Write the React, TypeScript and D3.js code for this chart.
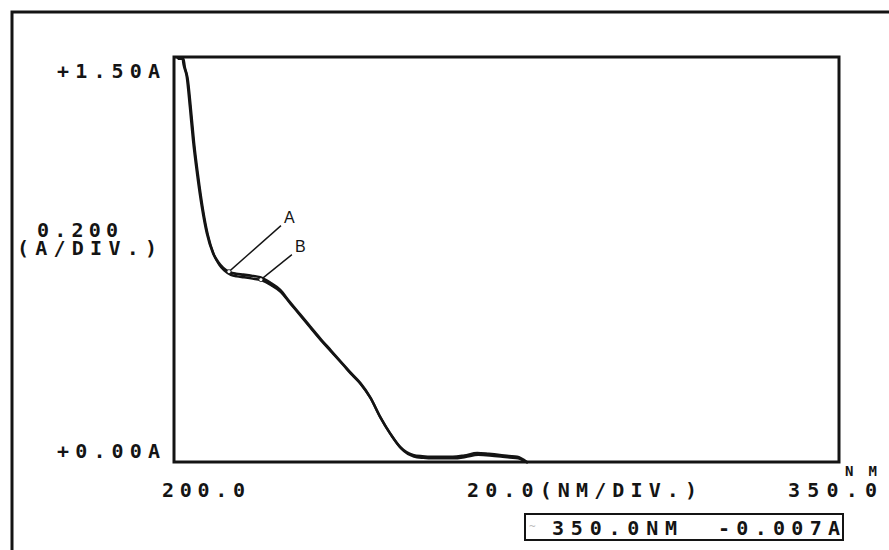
import React from "react";
import * as d3 from "d3";

// spectrum (nm, absorbance)
const wavelengths = [
  200.6, 201.9, 202.2, 202.9, 203.6, 204.3, 205.2, 206.3, 207.4, 208.8, 210.0,
  211.1, 212.6, 214.0, 215.6, 217.5, 219.4, 221.7, 223.9, 226.0, 228.4, 230.6,
  232.9, 235.5, 238.1, 240.0, 242.0, 244.2, 246.5, 248.7, 251.0, 253.9, 256.0,
  258.4, 262.9, 265.5, 268.4, 271.0, 273.5, 275.5, 277.4, 279.6,
];
const absA = [
  1.497, 1.497, 1.47, 1.426, 1.315, 1.193, 1.07, 0.944, 0.848, 0.774, 0.74,
  0.719, 0.703, 0.697, 0.694, 0.69, 0.684, 0.664, 0.638, 0.595, 0.548, 0.504,
  0.459, 0.411, 0.363, 0.328, 0.293, 0.241, 0.167, 0.107, 0.056, 0.026, 0.021,
  0.019, 0.019, 0.024, 0.033, 0.03, 0.026, 0.022, 0.019, 0.0,
];
const absB = [
  1.497, 1.497, 1.468, 1.42, 1.31, 1.188, 1.066, 0.94, 0.845, 0.77, 0.734,
  0.713, 0.697, 0.691, 0.688, 0.683, 0.677, 0.658, 0.633, 0.591, 0.544, 0.5,
  0.455, 0.408, 0.36, 0.325, 0.29, 0.238, 0.164, 0.105, 0.054, 0.024, 0.019,
  0.017, 0.017, 0.022, 0.03, 0.028, 0.024, 0.02, 0.017, 0.0,
];

const xDomain = [200, 350];
const yDomain = [0, 1.5];
const yTickLabels = ["+1.50A", "+0.00A"];
const xTickLabels = ["200.0", "350.0"];
const yScaleLabel = ["0.200", "(A/DIV.)"];
const xScaleLabel = "20.0(NM/DIV.)";
const unitLabel = "NM";
const readout = ["350.0NM", "-0.007A"];
// where the A / B pointers touch the curves (nm)
const pointers = [
  { name: "A", nm: 212.4, series: absA },
  { name: "B", nm: 219.6, series: absB },
];

const W = 889;
const H = 550;
const left = 174;
const top = 57;
const right = 839;
const bottom = 462;

const mono = "'DejaVu Sans Mono', monospace";
const ink = "#141414";

function lerp(xs: number[], ys: number[], x: number) {
  const i = d3.bisectLeft(xs, x);
  if (i <= 0) return ys[0];
  if (i >= xs.length) return ys[ys.length - 1];
  const t = (x - xs[i - 1]) / (xs[i] - xs[i - 1]);
  return ys[i - 1] + t * (ys[i] - ys[i - 1]);
}

function Label({ x, y, w, text, size = 20 }: any) {
  return (
    <text
      x={x}
      y={y}
      fontFamily={mono}
      fontSize={size}
      fontWeight="bold"
      fill={ink}
      textLength={w}
      lengthAdjust="spacing"
    >
      {text}
    </text>
  );
}

export default function App() {
  const x = d3.scaleLinear().domain(xDomain).range([left, right]);
  const y = d3.scaleLinear().domain(yDomain).range([bottom, top]);

  const line = (vals: number[]) =>
    d3
      .line<number>()
      .x((_, i) => x(wavelengths[i]))
      .y((d) => y(d))
      .curve(d3.curveMonotoneX)(vals) || "";

  return (
    <div style={{ position: "absolute", left: 0, top: 0 }}>
      <svg width={W} height={H} style={{ display: "block", background: "#fff" }}>
        {/* outer frame, runs off the right and bottom */}
        <rect x={12} y={12} width={W + 20} height={H + 20} fill="none" stroke={ink} strokeWidth={3} />

        {/* plot box */}
        <rect
          x={left}
          y={top}
          width={right - left}
          height={bottom - top}
          fill="none"
          stroke={ink}
          strokeWidth={3}
        />

        <path d={line(absB)} fill="none" stroke={ink} strokeWidth={2.4} transform="translate(1,1)" />
        <path d={line(absA)} fill="none" stroke={ink} strokeWidth={2.6} />

        {pointers.map((p, i) => {
          const px = x(p.nm);
          const py = y(lerp(wavelengths, p.series, p.nm));
          const dx = i === 0 ? 52 : 31;
          const dy = i === 0 ? -46 : -25;
          return (
            <g key={p.name}>
              <line x1={px} y1={py} x2={px + dx} y2={py + dy} stroke={ink} strokeWidth={1.4} />
              <circle cx={px} cy={py} r={2} fill="#fff" stroke={ink} strokeWidth={0.8} />
              <text
                x={px + dx + 3}
                y={py + dy - 3}
                fontFamily="'Liberation Sans', Arial, sans-serif"
                fontSize={16}
                fill={ink}
              >
                {p.name}
              </text>
            </g>
          );
        })}

        {/* y labels */}
        <Label x={57} y={y(1.5) + 21} w={103} text={yTickLabels[0]} />
        <Label x={57} y={y(0) - 4} w={103} text={yTickLabels[1]} />
        <Label x={37} y={237} w={81} text={yScaleLabel[0]} />
        <Label x={17} y={255} w={140} text={yScaleLabel[1]} />

        {/* x labels */}
        <Label x={162} y={497} w={83} text={xTickLabels[0]} />
        <Label x={467} y={497} w={230} text={xScaleLabel} />
        <Label x={788} y={497} w={89} text={xTickLabels[1]} />
        <Label x={845} y={476} w={32} text={unitLabel} size={14} />

        {/* readout box */}
        <rect x={525} y={514} width={318} height={26} fill="none" stroke={ink} strokeWidth={2} />
        <text x={529} y={530} fontFamily={mono} fontSize={11} fill="#bbb">
          ~
        </text>
        <Label x={552} y={535} w={125} text={readout[0]} />
        <Label x={718} y={535} w={122} text={readout[1]} />
      </svg>
    </div>
  );
}
